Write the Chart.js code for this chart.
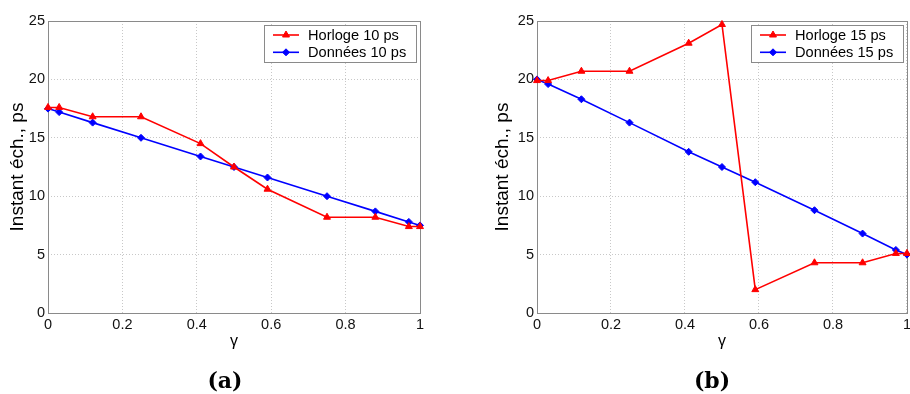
<!DOCTYPE html>
<html>
<head>
<meta charset="utf-8">
<script src="https://cdn.jsdelivr.net/npm/chart.js@4.4.1/dist/chart.umd.min.js"></script>
<style>
  body { margin: 0; background: #fff; overflow: hidden; }
  #wrap { position: relative; width: 910px; height: 394px; overflow: hidden; }
  canvas { position: absolute; top: 0; }
  .cap { position: absolute; top: 366px; width: 80px; text-align: center;
         font: bold 22px "DejaVu Serif", serif; line-height: 28px; color: #000; }
</style>
</head>
<body>
<div id="wrap">
  <canvas id="chartA" width="455" height="394" style="left:0"></canvas>
  <canvas id="chartB" width="464" height="394" style="left:450px"></canvas>
  <div class="cap" style="left:185px">(a)</div>
  <div class="cap" style="left:672px">(b)</div>
</div>
<script>
// valeurs
const gamma = [0, 0.03, 0.12, 0.25, 0.41, 0.5, 0.59, 0.75, 0.88, 0.97, 1];
const horloge10 = [17.6, 17.6, 16.8, 16.8, 14.5, 12.5, 10.6, 8.2, 8.2, 7.4, 7.4];
const donnees10 = [17.5, 17.2, 16.3, 15.0, 13.4, 12.5, 11.6, 10.0, 8.7, 7.8, 7.5];
const horloge15 = [19.9, 19.9, 20.7, 20.7, 23.1, 24.7, 2.0, 4.3, 4.3, 5.1, 5.1];
const donnees15 = [20.0, 19.6, 18.3, 16.3, 13.8, 12.5, 11.2, 8.8, 6.8, 5.4, 5.0];
const xTicks = [0, 0.2, 0.4, 0.6, 0.8, 1];
const yTicks = [0, 5, 10, 15, 20, 25];

const sans = '"Liberation Sans", Arial, sans-serif';
const RED = '#ff0000', BLUE = '#0000ff';

function pts(ys) {
    return gamma.map((g, i) => ({ x: g, y: ys[i] }));
}

function drawMarker(ctx, style, x, y, r, color) {
    ctx.fillStyle = color;
    ctx.strokeStyle = color;
    ctx.lineWidth = 1;
    ctx.beginPath();
    if (style === 'triangle') {
        for (let k = 0; k < 3; k++) {
            const a = k * 2 * Math.PI / 3;
            const px = x + Math.sin(a) * r, py = y - Math.cos(a) * r;
            if (k === 0) ctx.moveTo(px, py); else ctx.lineTo(px, py);
        }
    } else {
        ctx.moveTo(x, y - r); ctx.lineTo(x + r, y);
        ctx.lineTo(x, y + r); ctx.lineTo(x - r, y);
    }
    ctx.closePath();
    ctx.fill();
    ctx.stroke();
}

// cadre gris autour de la zone de tracé
const frame = {
    id: 'frame',
    beforeDatasetsDraw(chart) {
        const { ctx, chartArea: a } = chart;
        ctx.save();
        ctx.strokeStyle = '#8a8a8a';
        ctx.lineWidth = 1;
        ctx.strokeRect(Math.round(a.left) + 0.5, Math.round(a.top) + 0.5,
                       Math.round(a.right - a.left), Math.round(a.bottom - a.top));
        ctx.restore();
    }
};

// légende encadrée façon MATLAB
const boxLegend = {
    id: 'boxLegend',
    afterDraw(chart) {
        const { ctx, chartArea: a } = chart;
        const w = 152, h = 37;
        const left = Math.round(a.right - 4 - w), top = Math.round(a.top + 4);
        ctx.save();
        ctx.fillStyle = '#fff';
        ctx.fillRect(left, top, w, h);
        ctx.strokeStyle = '#8a8a8a';
        ctx.lineWidth = 1;
        ctx.strokeRect(left + 0.5, top + 0.5, w, h);
        chart.data.datasets.forEach((ds, i) => {
            const y = top + 10 + i * 17.3;
            ctx.strokeStyle = ds.borderColor;
            ctx.lineWidth = ds.borderWidth;
            ctx.beginPath();
            ctx.moveTo(left + 9, y);
            ctx.lineTo(left + 35, y);
            ctx.stroke();
            drawMarker(ctx, ds.pointStyle, left + 22, y, ds.pointRadius, ds.borderColor);
            ctx.fillStyle = '#000';
            ctx.font = '14.6px ' + sans;
            ctx.textBaseline = 'middle';
            ctx.textAlign = 'left';
            ctx.fillText(ds.label, left + 44, y + 0.5);
        });
        ctx.restore();
    }
};

function makeChart(id, label, horloge, donnees, yWidth, titlePad, padRight) {
    return new Chart(document.getElementById(id), {
        type: 'line',
        data: {
            datasets: [
                { label: 'Horloge ' + label, data: pts(horloge), borderColor: RED,
                  backgroundColor: RED, pointBackgroundColor: RED, borderWidth: 1.6,
                  pointStyle: 'triangle', pointRadius: 4, pointBorderWidth: 1, clip: false },
                { label: 'Données ' + label, data: pts(donnees), borderColor: BLUE,
                  backgroundColor: BLUE, pointBackgroundColor: BLUE, borderWidth: 1.6,
                  pointStyle: 'rectRot', pointRadius: 3.5, pointBorderWidth: 1, clip: false }
            ]
        },
        options: {
            responsive: false,
            animation: false,
            layout: { padding: { left: 0, right: padRight, top: 21, bottom: 39 } },
            plugins: { legend: { display: false }, tooltip: { enabled: false } },
            scales: {
                x: {
                    type: 'linear', min: 0, max: 1,
                    afterBuildTicks: s => { s.ticks = xTicks.map(v => ({ value: v })); },
                    afterFit: s => { s.height = 42; },
                    ticks: { color: '#111', padding: 3, font: { family: sans, size: 14.5 },
                             callback: v => String(v) },
                    grid: { color: '#c8c8c8', drawTicks: false },
                    border: { display: false, dash: [1, 2] },
                    title: { display: true, text: 'γ', color: '#000', padding: { top: 0, bottom: 4 },
                             font: { family: sans, size: 16 } }
                },
                y: {
                    min: 0, max: 25,
                    afterBuildTicks: s => { s.ticks = yTicks.map(v => ({ value: v })); },
                    afterFit: s => { s.width = yWidth; },
                    ticks: { color: '#111', padding: 3, font: { family: sans, size: 14.5 } },
                    grid: { color: '#c8c8c8', drawTicks: false },
                    border: { display: false, dash: [1, 2] },
                    title: { display: true, text: 'Instant éch., ps', color: '#000',
                             padding: { top: titlePad, bottom: 0 },
                             font: { family: sans, size: 19 } }
                }
            }
        },
        plugins: [frame, boxLegend]
    });
}

makeChart('chartA', '10 ps', horloge10, donnees10, 48, 6, 35);
makeChart('chartB', '15 ps', horloge15, donnees15, 87, 41.6, 6);
</script>
</body>
</html>
